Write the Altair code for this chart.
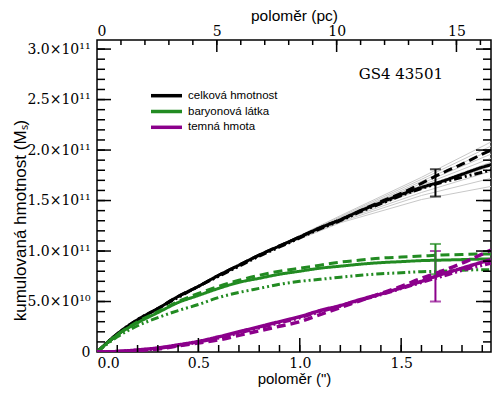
import altair as alt
import pandas as pd

# ---------------- data (masses in units of 1e11 M_sun) ----------------
radius_arcsec = [0.0, 0.1, 0.2, 0.3, 0.4, 0.5, 0.6, 0.7, 0.8, 0.9, 1.0,
                 1.1, 1.2, 1.3, 1.4, 1.5, 1.6, 1.7, 1.8, 1.9, 1.943]

total_solid = [0, 0.18, 0.32, 0.43, 0.55, 0.65, 0.76, 0.86, 0.96, 1.05, 1.14,
               1.23, 1.31, 1.40, 1.48, 1.56, 1.63, 1.69, 1.76, 1.83, 1.855]
total_dashed = [0, 0.17, 0.31, 0.43, 0.55, 0.65, 0.76, 0.86, 0.96, 1.05, 1.14,
                1.23, 1.31, 1.40, 1.49, 1.57, 1.67, 1.77, 1.86, 1.96, 2.00]
total_dashdot = [0, 0.18, 0.32, 0.43, 0.54, 0.65, 0.75, 0.85, 0.95, 1.04, 1.13,
                 1.22, 1.30, 1.39, 1.47, 1.55, 1.62, 1.68, 1.73, 1.78, 1.80]

bary_solid = [0, 0.17, 0.29, 0.39, 0.49, 0.56, 0.63, 0.69, 0.73, 0.77, 0.80,
              0.83, 0.85, 0.87, 0.885, 0.895, 0.905, 0.91, 0.915, 0.92, 0.92]
bary_dashed = [0, 0.17, 0.30, 0.40, 0.50, 0.58, 0.65, 0.71, 0.76, 0.80, 0.83,
               0.86, 0.89, 0.91, 0.93, 0.94, 0.95, 0.96, 0.965, 0.97, 0.97]
bary_dashdot = [0, 0.15, 0.26, 0.34, 0.41, 0.47, 0.54, 0.59, 0.63, 0.67, 0.70,
                0.72, 0.74, 0.76, 0.775, 0.785, 0.795, 0.80, 0.81, 0.815, 0.815]

dark_solid = [0, 0.005, 0.02, 0.04, 0.07, 0.105, 0.15, 0.20, 0.25, 0.30, 0.35,
              0.41, 0.46, 0.52, 0.575, 0.635, 0.70, 0.77, 0.83, 0.89, 0.914]
dark_dashed = [0, 0.003, 0.015, 0.03, 0.06, 0.09, 0.12, 0.165, 0.21, 0.255, 0.30,
               0.37, 0.44, 0.51, 0.58, 0.65, 0.73, 0.80, 0.88, 0.97, 1.01]
dark_dashdot = [0, 0.004, 0.018, 0.035, 0.065, 0.10, 0.14, 0.19, 0.24, 0.29, 0.34,
                0.40, 0.455, 0.515, 0.57, 0.63, 0.69, 0.75, 0.81, 0.86, 0.88]

# thin grey model realisations of the total mass
grey_x = [0.8, 1.2, 1.6, 1.943]
grey_lines = [
    [0.96, 1.35, 1.73, 2.08],
    [0.96, 1.34, 1.71, 2.04],
    [0.96, 1.33, 1.69, 2.00],
    [0.96, 1.33, 1.67, 1.96],
    [0.96, 1.32, 1.65, 1.92],
    [0.96, 1.31, 1.63, 1.88],
    [0.96, 1.31, 1.61, 1.84],
    [0.96, 1.30, 1.58, 1.79],
    [0.96, 1.29, 1.55, 1.72],
    [0.96, 1.28, 1.51, 1.64],
]

# error bars: total, dark matter, baryons
err_x = [1.669, 1.669, 1.669]
err_lo = [1.54, 0.50, 0.77]
err_hi = [1.81, 1.00, 1.07]
err_color = ["#000000", "#8b008b", "#228b22"]

legend_labels = ["celková hmotnost", "baryonová látka", "temná hmota"]
legend_colors = ["#000000", "#228b22", "#8b008b"]

y_tick_values = [0, 0.5, 1.0, 1.5, 2.0, 2.5, 3.0]
y_minor = [round(0.1 * i, 1) for i in range(1, 31)]
x_tick_values = [0.0, 0.5, 1.0, 1.5]
x_minor = [round(0.1 * i, 1) for i in range(1, 20)]
pc_tick_values = [0, 5, 10, 15]
pc_minor = list(range(1, 17))
PC_PER_ARCSEC = 8.462

W, H = 394, 312

# ---------------- encodings ----------------
X = alt.X("x:Q",
          scale=alt.Scale(domain=[0, 1.943], nice=False, zero=False),
          axis=alt.Axis(values=x_tick_values, format=".1f", title='poloměr (")',
                        labelFont="DejaVu Serif", labelFontSize=14, labelColor="black",
                        ticks=False, domain=False, grid=False, labelPadding=4,
                        titleFont="Liberation Sans", titleFontSize=15,
                        titleFontWeight="normal", titleColor="black",
                        titleY=31, titleBaseline="alphabetic"))
Y = alt.Y("y:Q",
          scale=alt.Scale(domain=[0, 3.09], nice=False),
          axis=alt.Axis(values=y_tick_values,
                        labelExpr="datum.value == 0 ? '0' : (datum.value < 1 ? format(datum.value*10, '.1f') + '×10¹⁰' : format(datum.value, '.1f') + '×10¹¹')",
                        labelFont="DejaVu Serif", labelFontSize=14, labelColor="black",
                        ticks=False, domain=False, grid=False, labelPadding=7,
                        title="kumulovaná hmotnost (Mₛ)", titleFont="Liberation Sans",
                        titleFontSize=17, titleFontWeight="normal", titleColor="black",
                        titleX=-72, titleY=180, titleBaseline="alphabetic",
                        titleAlign="center"))

dash_scale = alt.Scale(domain=["solid", "dashed", "dashdot"],
                       range=[[1, 0], [9, 5], [8, 3, 2, 3, 2, 3]])


def curves(series, color, width):
    rows = []
    for style, vals in series.items():
        for xv, yv in zip(radius_arcsec, vals):
            rows.append({"x": xv, "y": yv, "style": style})
    df = pd.DataFrame(rows)
    return alt.Chart(df).mark_line(color=color, strokeWidth=width, interpolate="monotone",
                                   strokeCap="butt", clip=True).encode(
        x=X, y=Y,
        strokeDash=alt.StrokeDash("style:N", scale=dash_scale, legend=None),
        detail="style:N")


grey_rows = []
for i, vals in enumerate(grey_lines):
    for xv, yv in zip(grey_x, vals):
        grey_rows.append({"x": xv, "y": yv, "line": i})
grey = alt.Chart(pd.DataFrame(grey_rows)).mark_line(
    color="#c8c8c8", strokeWidth=1, clip=True).encode(x=X, y=Y, detail="line:N")

black = curves({"solid": total_solid, "dashed": total_dashed, "dashdot": total_dashdot}, "#000000", 3)
green = curves({"solid": bary_solid, "dashed": bary_dashed, "dashdot": bary_dashdot}, "#228b22", 3)
purple = curves({"solid": dark_solid, "dashed": dark_dashed, "dashdot": dark_dashdot}, "#8b008b", 3.5)

err_df = pd.DataFrame({"x": err_x, "lo": err_lo, "hi": err_hi})


def errlayer(i):
    base = alt.Chart(err_df.iloc[[i]])
    bar = base.mark_rule(strokeWidth=2, color=err_color[i]).encode(x=X, y=alt.Y("lo:Q"), y2="hi:Q")
    cap_lo = base.mark_tick(orient="horizontal", size=11, thickness=2,
                            color=err_color[i]).encode(x=X, y=alt.Y("lo:Q"))
    cap_hi = base.mark_tick(orient="horizontal", size=11, thickness=2,
                            color=err_color[i]).encode(x=X, y=alt.Y("hi:Q"))
    return [bar, cap_lo, cap_hi]


# ---- inward ticks ----
def xticks(vals, length):
    return alt.Chart(pd.DataFrame({"x": vals})).mark_rule(color="black", strokeWidth=1.5).encode(
        x=X, y=alt.value(H), y2=alt.value(H - length))


def yticks(vals, length, right=False):
    base = alt.Chart(pd.DataFrame({"y": vals})).mark_rule(color="black", strokeWidth=1.5)
    if right:
        return base.encode(y=Y, x=alt.value(W), x2=alt.value(W - length))
    return base.encode(y=Y, x=alt.value(0), x2=alt.value(length))


ticks = [xticks(x_minor, 7), xticks(x_tick_values[1:], 14),
         yticks(y_minor, 8), yticks(y_tick_values[1:], 14),
         yticks(y_minor, 8, right=True), yticks(y_tick_values[1:], 15, right=True)]

# ---- legend ----
legend_layers = []
for i, (lab, col) in enumerate(zip(legend_labels, legend_colors)):
    ypx = 55.7 + i * 15.8
    d = pd.DataFrame({"label": [lab]})
    legend_layers.append(alt.Chart(d).mark_rule(color=col, strokeWidth=3.5).encode(
        x=alt.value(54), x2=alt.value(85), y=alt.value(ypx)))
    legend_layers.append(alt.Chart(d).mark_text(align="left", baseline="middle",
                                                font="Liberation Sans", fontSize=11.5,
                                                color="black").encode(
        x=alt.value(91), y=alt.value(ypx), text="label:N"))

name = alt.Chart(pd.DataFrame({"t": ["GS4 43501"]})).mark_text(
    align="right", baseline="middle", font="DejaVu Serif", fontSize=15, color="black").encode(
    x=alt.value(346), y=alt.value(34), text="t:N")

main = alt.layer(grey, black, *errlayer(0), green, *errlayer(1), *errlayer(2), purple,
                 *ticks, *legend_layers, name)

# ---- top axis in parsec ----
PC = alt.X("pc:Q", scale=alt.Scale(domain=[0, 1.943 * PC_PER_ARCSEC], nice=False, zero=False),
           axis=alt.Axis(orient="top", values=pc_tick_values, format="d", title="poloměr (pc)",
                         labelFont="DejaVu Serif", labelFontSize=14, labelColor="black",
                         ticks=False, domain=False, grid=False, labelPadding=1.5,
                         titleFont="Liberation Sans", titleFontSize=15.5, titleFontWeight="normal",
                         titleColor="black", titleY=-20, titleBaseline="alphabetic"))
top_minor = alt.Chart(pd.DataFrame({"pc": pc_minor})).mark_rule(color="black", strokeWidth=1.5).encode(
    x=PC, y=alt.value(0), y2=alt.value(5))
top_major = alt.Chart(pd.DataFrame({"pc": pc_tick_values[1:]})).mark_rule(color="black", strokeWidth=1.5).encode(
    x=PC, y=alt.value(0), y2=alt.value(12))
top = alt.layer(top_minor, top_major)

chart = alt.layer(main, top).resolve_scale(x="independent").properties(
    width=W, height=H,
    autosize=alt.AutoSizeParams(type="none"),
    padding={"left": 89, "top": 32, "right": 1, "bottom": 36},
).configure_view(stroke="black", strokeWidth=1.5)

chart.save("out.html", embed_options={"renderer": "svg", "actions": False})
